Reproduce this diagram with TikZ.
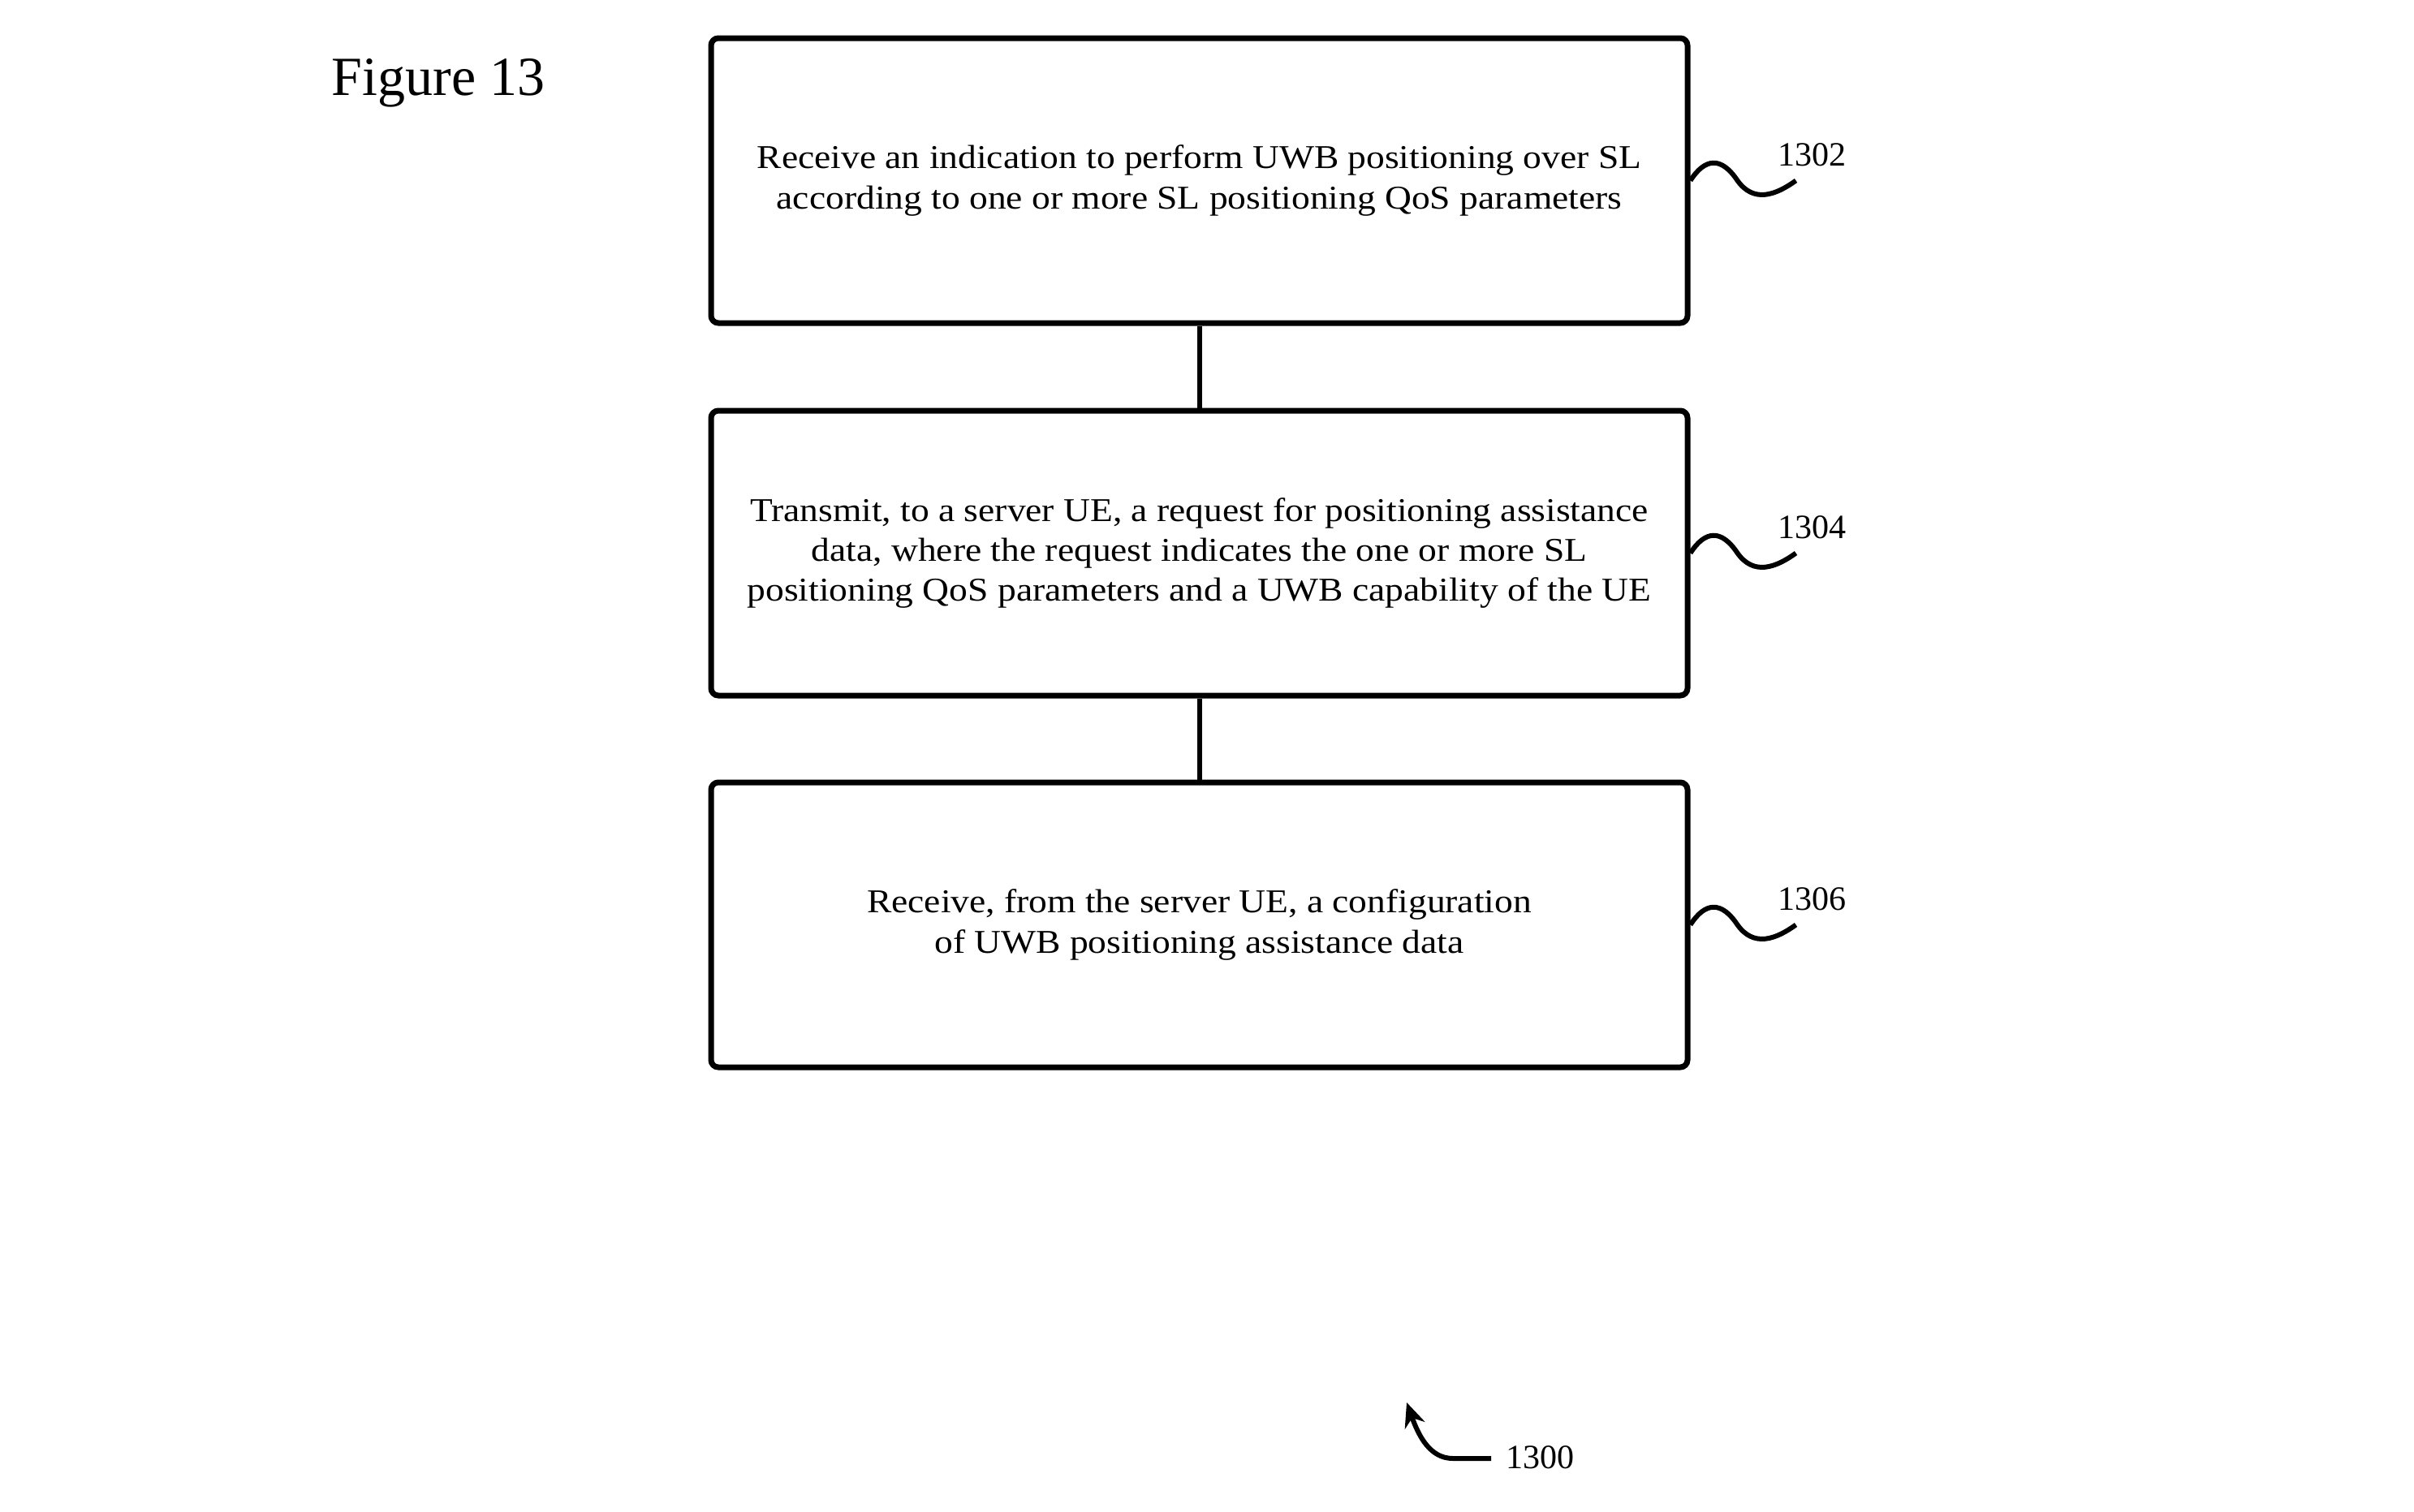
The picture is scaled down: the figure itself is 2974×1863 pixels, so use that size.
\documentclass[tikz,border=0pt]{standalone}
\usepackage{fontspec}
\setmainfont{Liberation Serif}
\newfontfamily\boxfont[FakeStretch=1.11]{Liberation Serif}
\usetikzlibrary{arrows.meta}
\begin{document}
\begin{tikzpicture}[x=1pt,y=-1pt,
  stepbox/.style={draw,line width=7pt,rounded corners=9pt,minimum width=1203pt,
    minimum height=351pt,inner sep=0pt,align=center,
    font=\boxfont\fontsize{41}{49.3}\selectfont},
  link/.style={line width=6pt},
  squig/.style={line width=6pt},
  reflabel/.style={font=\fontsize{42}{48}\selectfont,inner sep=0pt}]
\useasboundingbox (0,0) rectangle (2974,1863);

\node[font=\fontsize{68}{80}\selectfont,inner sep=0pt] (title) at (540,102) {Figure 13};

\node[stepbox] (s1) at (1477.5,222.5) {Receive an indication to perform UWB positioning over SL\\according to one or more SL positioning QoS parameters};
\node[stepbox] (s2) at (1477.5,681.5) {Transmit, to a server UE, a request for positioning assistance\\data, where the request indicates the one or more SL\\positioning QoS parameters and a UWB capability of the UE};
\node[stepbox] (s3) at (1477.5,1139.5) {Receive, from the server UE, a configuration\\of UWB positioning assistance data};

\draw[link] (s1.south) -- (s2.north);
\draw[link] (s2.south) -- (s3.north);

% reference squiggles and numerals
\foreach \b/\n in {s1/1302,s2/1304,s3/1306}{
  \draw[squig] (\b.east) .. controls ++(18,-28) and ++(-20,-30) .. ++(58,0)
    .. controls ++(20,28) and ++(-25,18) .. ++(72,0);
  \node[reflabel] (l\n) at ([shift={(150,-32)}]\b.east) {\n};
}

\coordinate (t1300) at (1837,1797);
\node[reflabel] (l1300) at (1897,1796) {1300};
\draw[line width=6pt,-{Stealth[length=30pt,width=26pt]}] (t1300) -- (1790,1797)
  .. controls (1762,1797) and (1748,1770) .. (1733,1728);
\end{tikzpicture}
\end{document}
